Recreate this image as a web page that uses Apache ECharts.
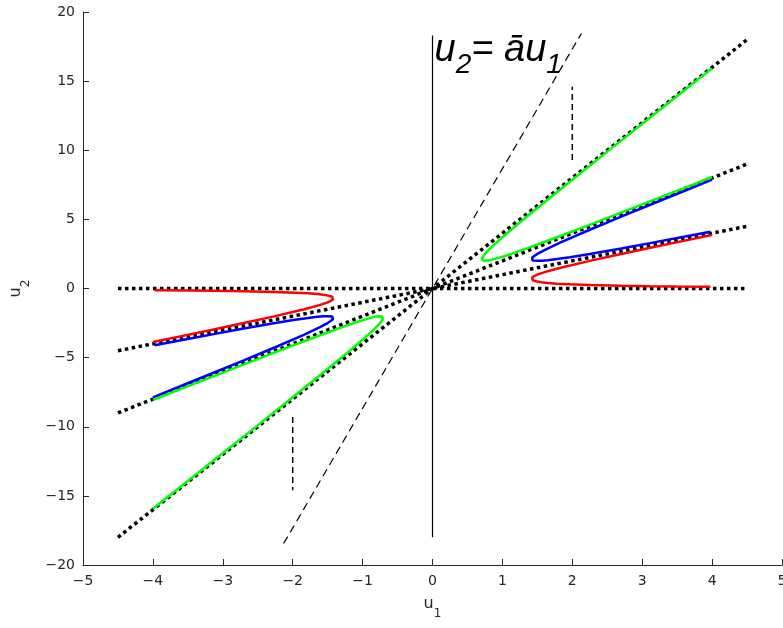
<!DOCTYPE html>
<html>
<head>
<meta charset="utf-8">
<script src="https://cdn.jsdelivr.net/npm/echarts@6/dist/echarts.min.js"></script>
<style>
html,body{margin:0;padding:0;background:#fff;}
#chart{width:783px;height:628px;}
</style>
</head>
<body>
<div id="chart"></div>
<script>
// ---- data ----
const xTicks = [-5, -4, -3, -2, -1, 0, 1, 2, 3, 4, 5];
const yTicks = [-20, -15, -10, -5, 0, 5, 10, 15, 20];

// dotted asymptote rays
const rayU0 = [[-4.5, 0], [4.5, 0]];
const rayU1 = [[-4.5, -4.5], [4.5, 4.5]];
const rayU2 = [[-4.5, -9], [4.5, 9]];
const rayU4 = [[-4.5, -18], [4.5, 18]];

// solid vertical line, long dashed line, short dashed marks
const vertLine = [[0, -18], [0, 18.3]];
const dashLine = [[-2.13, -18.45], [2.13, 18.45]];
const shortDashPos = [[2, 9.3], [2, 14.6]];
const shortDashNeg = [[-2, -9.3], [-2, -14.6]];

// red curve branches
const redUpper = [[3.976,0.13],[3.483,0.15],[3.111,0.17],[2.7,0.2],[2.25,0.25],[1.967,0.3],[1.779,0.35],[1.65,0.4],[1.561,0.45],[1.5,0.5],[1.433,0.6],[1.414,0.7],[1.425,0.8],[1.456,0.9],[1.5,1.0],[1.617,1.2],[1.833,1.5],[2.25,2],[2.7,2.5],[3.167,3],[3.643,3.5],[3.999,3.87]];
const redLower = [[-3.976,-0.13],[-3.483,-0.15],[-3.111,-0.17],[-2.7,-0.2],[-2.25,-0.25],[-1.967,-0.3],[-1.779,-0.35],[-1.65,-0.4],[-1.561,-0.45],[-1.5,-0.5],[-1.433,-0.6],[-1.414,-0.7],[-1.425,-0.8],[-1.456,-0.9],[-1.5,-1.0],[-1.617,-1.2],[-1.833,-1.5],[-2.25,-2],[-2.7,-2.5],[-3.167,-3],[-3.643,-3.5],[-3.999,-3.87]];

// blue curve branches
const blueUpper = [[3.976,4.106],[3.483,3.633],[3.111,3.281],[2.7,2.9],[2.25,2.5],[1.967,2.267],[1.779,2.129],[1.65,2.05],[1.561,2.011],[1.5,2.0],[1.433,2.033],[1.414,2.114],[1.425,2.225],[1.456,2.356],[1.5,2.5],[1.617,2.817],[1.833,3.333],[2.25,4.25],[2.7,5.2],[3.167,6.167],[3.643,7.143],[3.999,7.869]];
const blueLower = [[-3.976,-4.106],[-3.483,-3.633],[-3.111,-3.281],[-2.7,-2.9],[-2.25,-2.5],[-1.967,-2.267],[-1.779,-2.129],[-1.65,-2.05],[-1.561,-2.011],[-1.5,-2.0],[-1.433,-2.033],[-1.414,-2.114],[-1.425,-2.225],[-1.456,-2.356],[-1.5,-2.5],[-1.617,-2.817],[-1.833,-3.333],[-2.25,-4.25],[-2.7,-5.2],[-3.167,-6.167],[-3.643,-7.143],[-3.999,-7.869]];

// green curve branches
const greenUpper = [[4.0,8.063],[3.607,7.283],[3.165,6.41],[2.55,5.2],[2.143,4.407],[1.742,3.633],[1.35,2.9],[1.125,2.5],[0.983,2.267],[0.825,2.05],[0.75,2.0],[0.717,2.033],[0.707,2.114],[0.713,2.225],[0.75,2.5],[0.842,2.985],[0.997,3.694],[1.214,4.627],[1.583,6.167],[2.063,8.125],[2.55,10.1],[3.042,12.083],[3.536,14.071],[4.0,15.937]];
const greenLower = [[-4.0,-8.063],[-3.607,-7.283],[-3.165,-6.41],[-2.55,-5.2],[-2.143,-4.407],[-1.742,-3.633],[-1.35,-2.9],[-1.125,-2.5],[-0.983,-2.267],[-0.825,-2.05],[-0.75,-2.0],[-0.717,-2.033],[-0.707,-2.114],[-0.713,-2.225],[-0.75,-2.5],[-0.842,-2.985],[-0.997,-3.694],[-1.214,-4.627],[-1.583,-6.167],[-2.063,-8.125],[-2.55,-10.1],[-3.042,-12.083],[-3.536,-14.071],[-4.0,-15.937]];

// annotation anchor
const annotation = [[0.03, 17.1]];

// ---- chart ----
const axisColor = '#262626';
const tickFont = "'DejaVu Sans',sans-serif";
const minusFmt = function (v) { return v < 0 ? '\u2212' + String(-v) : String(v); };

function lineSeries(data, color, width, type, z) {
  return {
    type: 'line', data: data, showSymbol: false, symbol: 'none', silent: true,
    animation: false, z: z, clip: true,
    lineStyle: { color: color, width: width, type: type, cap: 'butt' }
  };
}

const nameRich = {
  b: { fontSize: 16, fontFamily: tickFont, color: axisColor, verticalAlign: 'top', lineHeight: 20 },
  s: { fontSize: 12, fontFamily: tickFont, color: axisColor, verticalAlign: 'top', lineHeight: 12, padding: [12, 0, 0, 0] }
};

const chart = echarts.init(document.getElementById('chart'), null, { renderer: 'canvas' });
chart.setOption({
  backgroundColor: '#ffffff',
  animation: false,
  grid: { left: 83, right: 1, top: 12, bottom: 63, containLabel: false, outerBoundsMode: 'none' },
  xAxis: {
    type: 'value', min: xTicks[0], max: xTicks[xTicks.length - 1], interval: 1,
    axisLine: { onZero: false, lineStyle: { color: axisColor, width: 1 } },
    axisTick: { inside: true, length: 6, lineStyle: { color: axisColor } },
    splitLine: { show: false },
    axisLabel: { color: axisColor, fontSize: 14, fontFamily: tickFont, margin: 9, formatter: minusFmt, hideOverlap: false },
    name: '{b|u}{s|1}', nameLocation: 'middle', nameGap: 31,
    nameTextStyle: { rich: nameRich }
  },
  yAxis: {
    type: 'value', min: yTicks[0], max: yTicks[yTicks.length - 1], interval: 5,
    axisLine: { onZero: false, lineStyle: { color: axisColor, width: 1 } },
    axisTick: { inside: true, length: 6, lineStyle: { color: axisColor } },
    splitLine: { show: false },
    axisLabel: { color: axisColor, fontSize: 14, fontFamily: tickFont, margin: 8, formatter: minusFmt },
    name: '{b|u}{s|2}', nameLocation: 'middle', nameGap: 55, nameRotate: 90,
    nameTextStyle: { rich: nameRich }
  },
  series: [
    lineSeries(rayU0, '#000000', 3.5, [3.5, 3.5], 2),
    lineSeries(rayU1, '#000000', 3.5, [3.5, 3.5], 2),
    lineSeries(rayU2, '#000000', 3.5, [3.5, 3.5], 2),
    lineSeries(rayU4, '#000000', 3.5, [3.5, 3.5], 2),
    lineSeries(vertLine, '#000000', 1.2, 'solid', 2),
    lineSeries(dashLine, '#000000', 1.2, [8, 5], 2),
    lineSeries(shortDashPos, '#000000', 1.5, [6, 4], 2),
    lineSeries(shortDashNeg, '#000000', 1.5, [6, 4], 2),
    lineSeries(redUpper, '#ff0000', 2.5, 'solid', 3),
    lineSeries(redLower, '#ff0000', 2.5, 'solid', 3),
    lineSeries(blueUpper, '#0000ff', 2.5, 'solid', 4),
    lineSeries(blueLower, '#0000ff', 2.5, 'solid', 4),
    lineSeries(greenUpper, '#00ff00', 2.5, 'solid', 5),
    lineSeries(greenLower, '#00ff00', 2.5, 'solid', 5),
    {
      type: 'scatter', data: annotation, symbolSize: 0, silent: true, z: 6,
      itemStyle: { opacity: 1, color: '#000000' },
      label: {
        show: true, position: 'right', distance: 0, color: '#000000', opacity: 1,
        textBorderWidth: 0,
        formatter: '{m|u}{s|2}{m|= ā}{m|u}{s|1}',
        rich: {
          m: { fontSize: 38, fontStyle: 'italic', fontFamily: "'Liberation Sans',Arial,sans-serif", color: '#000000', lineHeight: 42, verticalAlign: 'top' },
          s: { fontSize: 28, fontStyle: 'italic', fontFamily: "'Liberation Sans',Arial,sans-serif", color: '#000000', lineHeight: 28, verticalAlign: 'top', padding: [20, 0, 0, 0] }
        }
      }
    }
  ]
});
</script>
</body>
</html>
